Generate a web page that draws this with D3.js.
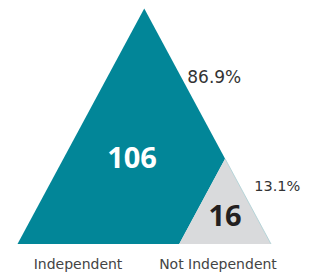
<!DOCTYPE html>
<html>
<head>
<meta charset="utf-8">
<script src="https://cdn.jsdelivr.net/npm/d3@7"></script>
<style>
  body { margin: 0; background: #fff; }
  svg { display: block; }
</style>
</head>
<body>
<div id="chart"></div>
<script>
// data
var categories = ["Independent", "Not Independent"];
var counts = [106, 16];
var colors = ["#028698", "#d9dadc"];

var width = 313, height = 274;
var total = d3.sum(counts);
var fmt = d3.format(".1%");

var svg = d3.select("#chart")
  .append("svg")
  .attr("width", width)
  .attr("height", height);

// unit triangle coords -> pixels
var x = d3.scaleLinear().domain([0, 1]).range([17.5, 271]);
var y = d3.scaleLinear().domain([0, 1]).range([244, 8.5]);

// small triangle size by area share
var size = d3.scaleSqrt().domain([0, total]).range([0, 1]);
var k = size(counts[1]);

var line = d3.line()
  .x(function (d) { return x(d[0]); })
  .y(function (d) { return y(d[1]); });

var tealPts = [[0, 0], [0.5, 1], [1 - k / 2, k], [1 - k, 0]];
var grayPts = [[1 - k, 0], [1 - k / 2, k], [1, 0]];

svg.append("path")
  .attr("d", line(tealPts) + "Z")
  .attr("fill", colors[0]);

svg.append("path")
  .attr("d", line(grayPts) + "Z")
  .attr("fill", colors[1]);

// faint edge on the right side of the small triangle
svg.append("path")
  .attr("d", line([[1 - k / 2, k], [1, 0]]))
  .attr("stroke", "#a8ced3")
  .attr("stroke-width", 0.8)
  .attr("fill", "none");

// centroids for count labels
var cBig = [0.5, 1 / 3], aBig = 0.5;
var cSmall = [1 - k / 2, k / 3], aSmall = 0.5 * k * k;
var cTeal = [
  (cBig[0] * aBig - cSmall[0] * aSmall) / (aBig - aSmall),
  (cBig[1] * aBig - cSmall[1] * aSmall) / (aBig - aSmall)
];

svg.append("text")
  .attr("x", x(cTeal[0]))
  .attr("y", y(cTeal[1]))
  .attr("dy", "0.36em")
  .attr("text-anchor", "middle")
  .style("font-family", "'Open Sans', sans-serif")
  .style("font-weight", "bold")
  .style("font-size", "29px")
  .style("fill", "#fff")
  .text(counts[0]);

svg.append("text")
  .attr("x", x(cSmall[0]))
  .attr("y", y(cSmall[1]))
  .attr("dy", "0.36em")
  .attr("text-anchor", "middle")
  .style("font-family", "'Open Sans', sans-serif")
  .style("font-weight", "bold")
  .style("font-size", "29px")
  .style("fill", "#231f20")
  .text(counts[1]);

// percentage labels
svg.append("text")
  .attr("x", x(0.5 + 0.5 * 0.3) + 5)
  .attr("y", y(0.7) + 4)
  .style("font-family", "'DejaVu Sans', sans-serif")
  .style("font-size", "17px")
  .style("fill", "#333")
  .text(fmt(counts[0] / total));

svg.append("text")
  .attr("x", x(1 - 0.125) + 15)
  .attr("y", y(0.25) + 6)
  .style("font-family", "'DejaVu Sans', sans-serif")
  .style("font-size", "14.5px")
  .style("fill", "#333")
  .text(fmt(counts[1] / total));

// category labels
var labelX = [78, 218];
svg.selectAll("text.cat")
  .data(categories)
  .enter()
  .append("text")
  .attr("class", "cat")
  .attr("x", function (d, i) { return labelX[i]; })
  .attr("y", 269)
  .attr("text-anchor", "middle")
  .style("font-family", "'DejaVu Sans', sans-serif")
  .style("font-size", "14px")
  .style("fill", "#444")
  .text(function (d) { return d; });
</script>
</body>
</html>
